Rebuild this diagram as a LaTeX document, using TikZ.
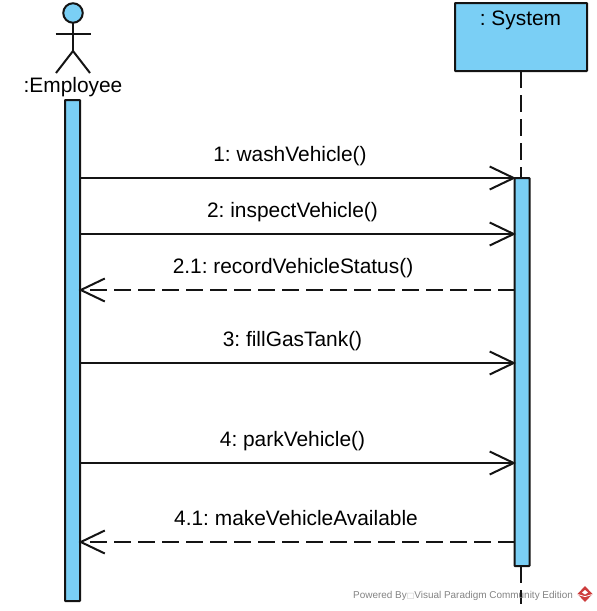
\documentclass[tikz,border=0pt]{standalone}
\usepackage{fontspec}
\setmainfont{Liberation Sans}
\newfontfamily\symfont{DejaVu Sans}
\usetikzlibrary{arrows.meta,positioning}
\definecolor{fillblue}{RGB}{122,207,245}
\definecolor{inkline}{RGB}{20,20,20}
\definecolor{wmgrey}{RGB}{130,130,130}
\definecolor{logored}{RGB}{205,60,60}
\tikzset{
  x=1pt,y=-1pt,
  shapeblue/.style={draw=inkline,fill=fillblue,line width=2pt,rounded corners=0.6pt,inner sep=0pt,outer sep=0pt,minimum width=#1},
  actorline/.style={draw=inkline,line width=2pt},
  lifedash/.style={draw=inkline,line width=2pt,dash pattern=on 17pt off 7pt},
  msgcall/.style={draw=inkline,line width=2pt,shorten >=-1.5pt,-{Straight Barb[length=24pt,width=23pt,line width=2pt]}},
  msgreturn/.style={msgcall,dash pattern=on 17pt off 7pt},
  msglabel/.style={font=\fontsize{20.9}{23}\selectfont\frenchspacing,inner sep=0pt,text=black,anchor=base},
}
\begin{document}
\begin{tikzpicture}
\useasboundingbox (0,0) rectangle (597,611);
% actor
\node[circle,draw=inkline,fill=fillblue,line width=2pt,minimum size=19.5pt,inner sep=0pt,outer sep=0pt] (head) at (73,13) {};
\coordinate (hip) at (73,51);
\coordinate (armL) at (55.5,34);
\coordinate (armR) at (90.5,34);
\coordinate (footL) at (56,73);
\coordinate (footR) at (90,73);
\draw[actorline] (head.south) -- (hip);
\draw[actorline] (armL) -- (armR);
\draw[actorline] (footL) -- (hip) -- (footR);
\node[msglabel] (emp) at (73,92.5) {:Employee};
% system
\node[shapeblue=132pt,minimum height=68pt] (sys) at (521,37) {};
\node[msglabel] (systxt) at (520.5,25) {: System};
% lifelines
\coordinate (lifeEnd) at (520.5,604);
\coordinate (sysTop) at (520.5,178);
\coordinate (sysLow) at (520.5,566);
\coordinate (sysBot) at (520.5,71);
\draw[lifedash] (sysBot) -- (sysTop);
\draw[lifedash] (sysLow) -- (lifeEnd);
% activations
\node[shapeblue=15pt,minimum height=501pt] (barE) at (72.5,350.5) {};
\node[shapeblue=15pt,minimum height=388pt] (barS) at (522,372) {};
% messages
\foreach \n/\y in {a/178,b/234,c/290,d/363,e/463,f/542}{
  \coordinate (\n L) at (barE.east |- 0,\y);
  \coordinate (\n R) at (barS.west |- 0,\y);
}
\draw[msgcall] (aL) -- (aR);
\draw[msgcall] (bL) -- (bR);
\draw[msgreturn] (cR) -- (cL);
\draw[msgcall] (dL) -- (dR);
\draw[msgcall] (eL) -- (eR);
\draw[msgreturn] (fR) -- (fL);
\node[msglabel] (la) at (290,161.5) {1: washVehicle()};
\node[msglabel] (lb) at (292.5,217) {2: inspectVehicle()};
\node[msglabel] (lc) at (293,273) {2.1: recordVehicleStatus()};
\node[msglabel] (ld) at (292.5,346) {3: fillGasTank()};
\node[msglabel] (le) at (292.5,446) {4: parkVehicle()};
\node[msglabel] (lf) at (296,525) {4.1: makeVehicleAvailable};
% watermark
\node[font=\fontsize{9.95}{12}\selectfont,text=wmgrey,inner sep=0pt,anchor=base west] (wm) at (353,598) {Powered By{\symfont\color{wmgrey!50}\fontsize{8}{10}\selectfont □}Visual Paradigm Community Edition};
\fill[logored] (585,586) -- (592.5,594) -- (585,602) -- (577.5,594) -- cycle;
\fill[white] (578,595) -- (585,597) -- (592,595) -- (592,594.2) -- (585,596.2) -- (578,594.2) -- cycle;
\fill[white] (585,590) -- (588,592.5) -- (585,594.5) -- (582,592.5) -- cycle;
\end{tikzpicture}
\end{document}
